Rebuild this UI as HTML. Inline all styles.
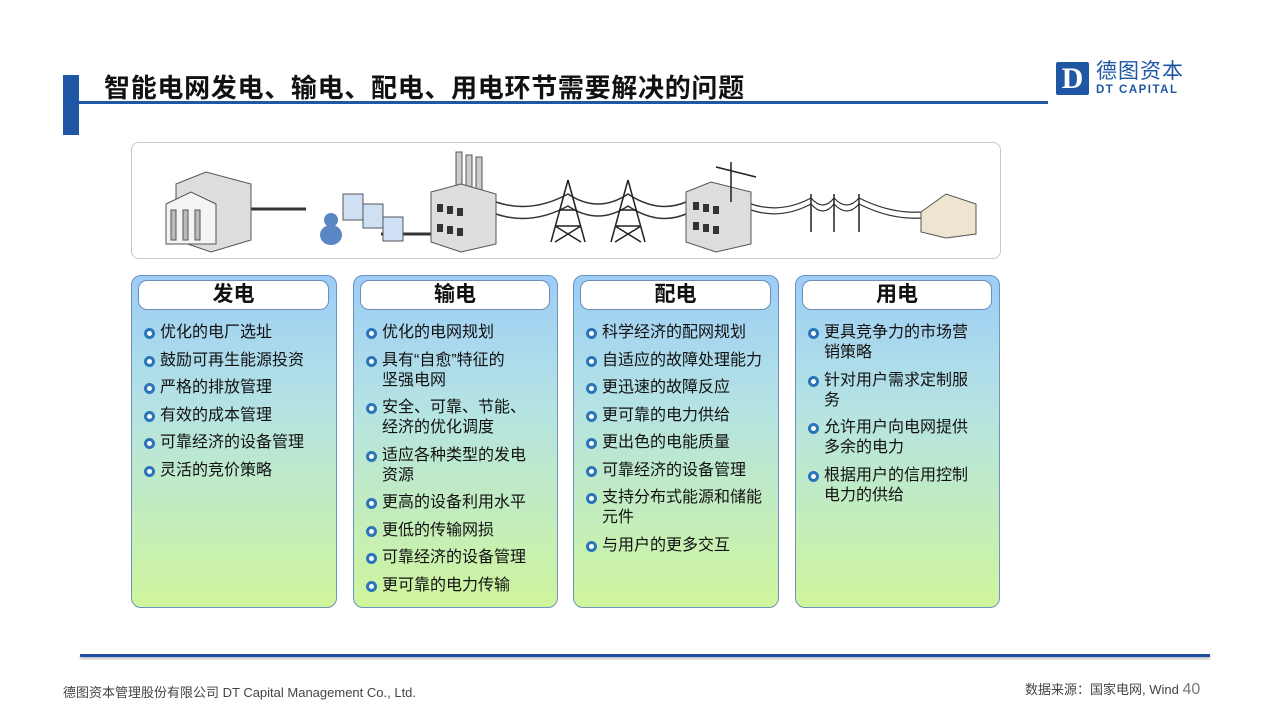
<!DOCTYPE html>
<html><head><meta charset="utf-8"><style>
*{margin:0;padding:0;box-sizing:border-box}
body{width:1280px;height:720px;background:#fff;position:relative;overflow:hidden;font-family:"Liberation Sans","Noto Sans CJK SC",sans-serif}
.abs{position:absolute}
.card{position:absolute;top:275px;height:333px;width:206px;border:1.5px solid #6d94bd;border-radius:10px;background:linear-gradient(#9dcdf8 0%,#b5e3e3 40%,#cff59c 100%)}
.hd{position:absolute;left:6px;right:7px;top:4px;height:30px;background:#fff;border:1.5px solid #6d8fb5;border-radius:9px;text-align:center;font-weight:bold;font-size:21px;line-height:28px;color:#111}
.list{position:absolute;left:11px;top:47px;right:22px;font-size:16px;color:#111;line-height:20px}
.list div{position:relative;padding-left:17px;margin-bottom:7.5px}
.list div:before{content:"";position:absolute;left:1px;top:5px;width:11px;height:11px;border-radius:50%;background:#fff;border:3px solid #2a75b9;box-sizing:border-box}
</style></head><body>
<div class="abs" style="left:63px;top:75px;width:16px;height:60px;background:#1f57a4"></div>
<div class="abs" style="left:79px;top:101px;width:969px;height:3px;background:#1f57a4"></div>
<div class="abs" style="left:104px;top:72px;font-size:26px;font-weight:bold;color:#111;line-height:32px;white-space:nowrap;letter-spacing:0.7px">智能电网发电、输电、配电、用电环节需要解决的问题</div>
<div class="abs" style="left:1056px;top:62px;width:33px;height:33px;background:#1f57a4;border-radius:2px;color:#fff;font:bold 30px 'Liberation Serif',serif;text-align:center;line-height:33px">D</div>
<div class="abs" style="left:1096px;top:60px;font-size:21px;color:#1f57a4;line-height:24px;letter-spacing:1px">德图资本</div>
<div class="abs" style="left:1096px;top:84px;font-size:11.5px;font-weight:bold;color:#1f57a4;letter-spacing:1.5px">DT CAPITAL</div>

<div class="abs" style="left:131px;top:142px;width:870px;height:117px;border:1.5px solid #c8c8c8;border-radius:8px;background:#fff"></div>
<svg class="abs" style="left:131px;top:142px" width="870" height="117">
<g stroke="#333" fill="none">
<line x1="120" y1="67" x2="175" y2="67" stroke-width="3"/>
<line x1="250" y1="92" x2="300" y2="92" stroke-width="3"/>
<path d="M365 60 Q400 72 437 52 Q467 72 497 52 Q527 72 555 60" stroke-width="1.5"/>
<path d="M365 72 Q400 84 437 64 Q467 84 497 64 Q527 84 555 72" stroke-width="1.5"/>
<path d="M620 62 Q650 72 680 56 Q692 70 703 56 Q716 70 728 56 Q760 72 790 70" stroke-width="1.2"/>
<path d="M620 68 Q650 78 680 62 Q692 76 703 62 Q716 76 728 62 Q760 78 790 76" stroke-width="1.2"/>
</g>
<g stroke="#555">
<path d="M45 42 L75 30 L120 42 L120 98 L80 110 L45 98 Z" fill="#ddd"/>
<path d="M35 62 L60 50 L85 62 L85 102 L35 102 Z" fill="#f4f4f4"/>
<rect x="40" y="68" width="5" height="30" fill="#bbb"/><rect x="52" y="68" width="5" height="30" fill="#bbb"/><rect x="64" y="68" width="5" height="30" fill="#bbb"/>
<rect x="212" y="52" width="20" height="26" fill="#cfe0f5"/><rect x="232" y="62" width="20" height="24" fill="#cfe0f5"/><rect x="252" y="75" width="20" height="24" fill="#cfe0f5"/>
<rect x="325" y="10" width="6" height="40" fill="#ccc"/><rect x="335" y="13" width="6" height="37" fill="#ccc"/><rect x="345" y="15" width="6" height="35" fill="#ccc"/>
<path d="M300 50 L330 42 L365 52 L365 102 L330 110 L300 100 Z" fill="#ddd"/>
<path d="M555 50 L580 40 L620 50 L620 102 L585 110 L555 100 Z" fill="#ddd"/>
<path d="M790 70 L815 52 L845 62 L845 92 L815 96 L790 90 Z" fill="#efe4cf"/>
</g>
<g fill="#333"><rect x="306" y="62" width="6" height="8"/><rect x="316" y="64" width="6" height="8"/><rect x="326" y="66" width="6" height="8"/><rect x="306" y="82" width="6" height="8"/><rect x="316" y="84" width="6" height="8"/><rect x="326" y="86" width="6" height="8"/>
<rect x="562" y="60" width="6" height="8"/><rect x="572" y="62" width="6" height="8"/><rect x="582" y="64" width="6" height="8"/><rect x="562" y="80" width="6" height="8"/><rect x="572" y="82" width="6" height="8"/><rect x="582" y="84" width="6" height="8"/></g>
<ellipse cx="200" cy="93" rx="11" ry="10" fill="#5b86c4"/><circle cx="200" cy="78" r="7" fill="#5b86c4"/>
<g stroke="#222" stroke-width="1.5" fill="none">
<path d="M437 38 L420 100 M437 38 L454 100 M428 68 L446 68 M424 84 L450 84 M424 84 L450 100 M450 84 L424 100"/>
<path d="M497 38 L480 100 M497 38 L514 100 M488 68 L506 68 M484 84 L510 84 M484 84 L510 100 M510 84 L484 100"/>
<path d="M680 52 V90 M703 52 V90 M728 52 V90 M600 20 V60 M585 25 L625 35"/>
</g>
</svg>

<div class="card" style="left:131px"><div class="hd">发电</div><div class="list">
<div>优化的电厂选址</div><div>鼓励可再生能源投资</div><div>严格的排放管理</div><div>有效的成本管理</div><div>可靠经济的设备管理</div><div>灵活的竞价策略</div></div></div>
<div class="card" style="left:353px;width:205px"><div class="hd">输电</div><div class="list">
<div>优化的电网规划</div><div>具有“自愈”特征的<br>坚强电网</div><div>安全、可靠、节能、<br>经济的优化调度</div><div>适应各种类型的发电<br>资源</div><div>更高的设备利用水平</div><div>更低的传输网损</div><div>可靠经济的设备管理</div><div>更可靠的电力传输</div></div></div>
<div class="card" style="left:573px"><div class="hd">配电</div><div class="list" style="right:4px">
<div>科学经济的配网规划</div><div>自适应的故障处理能力</div><div>更迅速的故障反应</div><div>更可靠的电力供给</div><div>更出色的电能质量</div><div>可靠经济的设备管理</div><div>支持分布式能源和储能<br>元件</div><div>与用户的更多交互</div></div></div>
<div class="card" style="left:795px;width:205px"><div class="hd">用电</div><div class="list">
<div>更具竞争力的市场营<br>销策略</div><div>针对用户需求定制服<br>务</div><div>允许用户向电网提供<br>多余的电力</div><div>根据用户的信用控制<br>电力的供给</div></div></div>

<div class="abs" style="left:80px;top:654px;width:1130px;height:3px;background:#1f4fa0;box-shadow:0 2px 2px #bbb"></div>
<div class="abs" style="left:63px;top:682px;font-size:13px;color:#444">德图资本管理股份有限公司 DT Capital Management Co., Ltd.</div>
<div class="abs" style="left:1025px;top:679px;font-size:13px;color:#444">数据来源：国家电网, Wind <span style="font-size:16px;color:#777">40</span></div>
</body></html>
